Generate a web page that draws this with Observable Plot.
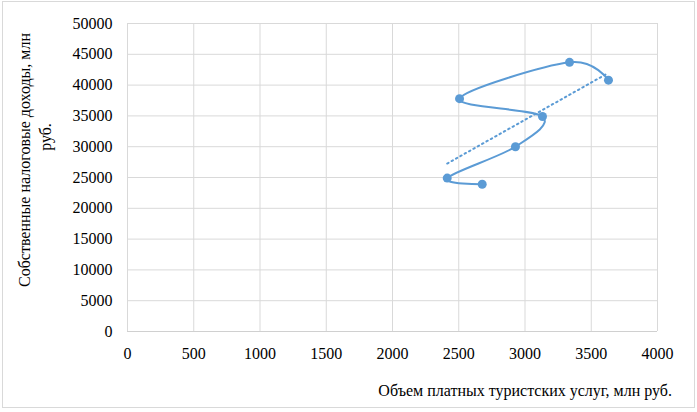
<!DOCTYPE html>
<html>
<head>
<meta charset="utf-8">
<script src="https://cdn.jsdelivr.net/npm/d3@7"></script>
<script src="https://cdn.jsdelivr.net/npm/@observablehq/plot@0.6"></script>
</head>
<body style="margin:0;background:#fff">
<div id="chart"></div>
<script>
// Data (in chronological order of the smoothed line)
const tourismServices = [2677, 2413, 2928, 3132, 2506, 3336, 3630]; // млн руб.
const taxIncome = [23900, 24900, 30000, 34900, 37800, 43700, 40800]; // млн руб.
const xTicks = [0, 500, 1000, 1500, 2000, 2500, 3000, 3500, 4000];
const yTicks = [0, 5000, 10000, 15000, 20000, 25000, 30000, 35000, 40000, 45000, 50000];
const xTitle = "Объем платных туристских услуг, млн руб.";
const yTitleLines = ["Собственные налоговые доходы, млн", "руб."];

const data = tourismServices.map((x, i) => ({x, y: taxIncome[i]}));
const blue = "#5B9BD5";
const grid = "#D9D9D9";
const font = "Liberation Serif";

const chart = Plot.plot({
  width: 697,
  height: 412,
  marginLeft: 127,
  marginRight: 40,
  marginTop: 23,
  marginBottom: 81,
  style: {fontFamily: font, fontSize: "16px"},
  x: {domain: [0, 4000], label: null},
  y: {domain: [0, 50000], label: null},
  marks: [
    Plot.gridX(xTicks, {stroke: grid, strokeOpacity: 1, strokeWidth: 1}),
    Plot.gridY(yTicks, {stroke: grid, strokeOpacity: 1, strokeWidth: 1}),
    Plot.ruleY([0], {stroke: "#D0D0D0", strokeWidth: 1}),
    Plot.axisX(xTicks, {tickSize: 0, tickPadding: 16, tickFormat: d => String(d), fill: "#000", label: null}),
    Plot.axisY(yTicks, {tickSize: 0, tickPadding: 15, tickFormat: d => String(d), fill: "#000", label: null}),
    Plot.linearRegressionY(data, {x: "x", y: "y", ci: 0, stroke: blue, strokeWidth: 2, strokeDasharray: "1.5,3.5"}),
    Plot.line(data, {x: "x", y: "y", curve: "cardinal", stroke: blue, strokeWidth: 2}),
    Plot.dot(data, {x: "x", y: "y", r: 4.5, fill: blue, stroke: blue, strokeWidth: 0})
  ]
});

const svg = d3.select(chart);
svg.insert("rect", ":first-child")
  .attr("x", 2.5).attr("y", 1.5).attr("width", 692).attr("height", 406)
  .attr("fill", "#fff").attr("stroke", grid).attr("stroke-width", 1);

svg.append("text")
  .attr("x", 672).attr("y", 396)
  .attr("text-anchor", "end")
  .attr("font-size", 16).attr("fill", "#000")
  .text(xTitle);

[[30, 160], [51, 137]].forEach(([bx, cy], i) => {
  svg.append("text")
    .attr("transform", `translate(${bx},${cy}) rotate(-90)`)
    .attr("text-anchor", "middle")
    .attr("font-size", 16).attr("fill", "#000")
    .text(yTitleLines[i]);
});

svg.attr("font-family", font);
svg.selectAll("g").attr("font-family", font);
svg.selectAll("text").attr("font-family", font).style("font-family", font, "important");

document.getElementById("chart").appendChild(chart);
</script>
</body>
</html>
